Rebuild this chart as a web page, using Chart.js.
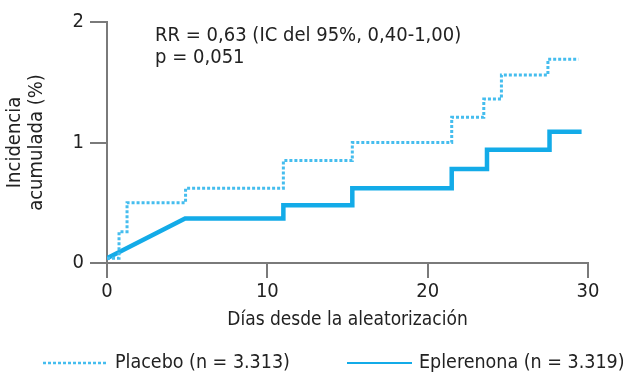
<!DOCTYPE html>
<html>
<head>
<meta charset="utf-8">
<script src="https://cdn.jsdelivr.net/npm/chart.js@4.4.1/dist/chart.umd.min.js"></script>
<style>
  html, body { margin: 0; padding: 0; background: #fff; }
  #wrap { width: 623px; height: 376px; position: relative; }
</style>
</head>
<body>
<div id="wrap"><canvas id="myChart"></canvas></div>
<script>
// datos
const ticksX = [0, 10, 20, 30];
const ticksY = [0, 1, 2];
const etiquetas = ['Placebo (n = 3.313)', 'Eplerenona (n = 3.319)'];

// placebo: escalones (dia del evento, incidencia acumulada)
const placeboDias = [0, 0.75, 1.25, 4.9, 11.0, 15.3, 21.5, 23.5, 24.6, 27.5, 29.4];
const placeboIncidencia = [0.04, 0.26, 0.50, 0.62, 0.85, 1.00, 1.21, 1.36, 1.56, 1.69, 1.69];

// eplerenona: vertices de la curva
const eplerenonaDias = [0, 4.87, 11.0, 11.0, 15.3, 15.3, 21.5, 21.5, 23.7, 23.7, 27.6, 27.6, 29.6];
const eplerenonaIncidencia = [0.04, 0.37, 0.37, 0.48, 0.48, 0.62, 0.62, 0.78, 0.78, 0.94, 0.94, 1.09, 1.09];

const textoRR = 'RR = 0,63 (IC del 95%, 0,40-1,00)';
const textoP = 'p = 0,051';

const fuente = "'Liberation Sans Narrow', 'DejaVu Sans Condensed', 'Arial Narrow', sans-serif";
const gris = '#7a7a7a';
const colorPlacebo = '#45bdee';
const colorEple = '#13abe8';

function puntos(xs, ys) {
    return xs.map((x, i) => ({ x: x, y: ys[i] }));
}

// texto de RR y p dentro del grafico
const anotacion = {
    id: 'anotacion',
    afterDatasetsDraw(chart) {
        const ctx = chart.ctx;
        const x = chart.scales.x.getPixelForValue(3);
        const top = chart.chartArea.top;
        ctx.save();
        ctx.fillStyle = '#222';
        ctx.font = '20px ' + fuente;
        ctx.textBaseline = 'alphabetic';
        ctx.fillText(textoRR, x, top + 19);
        ctx.fillText(textoP, x, top + 41);
        ctx.restore();
    }
};

// leyenda abajo, dibujada a mano
const leyenda = {
    id: 'leyenda',
    afterDraw(chart) {
        const ctx = chart.ctx;
        const y = 363;
        const inicios = [43, 347];
        ctx.save();
        chart.data.datasets.forEach((ds, i) => {
            const x0 = inicios[i];
            ctx.beginPath();
            ctx.strokeStyle = ds.borderColor;
            ctx.lineWidth = i === 0 ? 2.5 : 2;
            ctx.setLineDash(ds.borderDash || []);
            ctx.moveTo(x0, y);
            ctx.lineTo(x0 + 65, y);
            ctx.stroke();
            ctx.setLineDash([]);
            ctx.fillStyle = '#222';
            ctx.font = '19.5px ' + fuente;
            ctx.textBaseline = 'middle';
            ctx.fillText(ds.label, x0 + 72, y);
        });
        ctx.restore();
    }
};

var ctx = document.getElementById('myChart').getContext('2d');
var myChart = new Chart(ctx, {
    type: 'line',
    data: {
        datasets: [{
            label: etiquetas[0],
            data: puntos(placeboDias, placeboIncidencia),
            borderColor: colorPlacebo,
            borderWidth: 3,
            borderDash: [3, 2],
            stepped: true,
            pointRadius: 0,
            fill: false
        }, {
            label: etiquetas[1],
            data: puntos(eplerenonaDias, eplerenonaIncidencia),
            borderColor: colorEple,
            borderWidth: 4.5,
            pointRadius: 0,
            fill: false
        }]
    },
    options: {
        responsive: true,
        maintainAspectRatio: false,
        animation: false,
        layout: {
            padding: { top: 22, right: 35, bottom: 38, left: 0 }
        },
        plugins: {
            legend: { display: false },
            tooltip: { enabled: false }
        },
        scales: {
            x: {
                type: 'linear',
                min: 0,
                max: 30,
                afterBuildTicks: s => { s.ticks = ticksX.map(v => ({ value: v })); },
                afterFit: s => { s.height = 75; },
                grid: { drawOnChartArea: false, color: gris, lineWidth: 2, tickLength: 15 },
                border: { color: gris, width: 2 },
                ticks: { color: '#222', font: { family: fuente, size: 20 }, padding: 2, maxRotation: 0 },
                title: {
                    display: true,
                    text: 'Días desde la aleatorización',
                    color: '#222',
                    font: { family: fuente, size: 19 },
                    padding: { top: 0, bottom: 7 }
                }
            },
            y: {
                min: 0,
                max: 2,
                afterBuildTicks: s => { s.ticks = ticksY.map(v => ({ value: v })); },
                afterFit: s => { s.width = 107; },
                grid: { drawOnChartArea: false, color: gris, lineWidth: 2, tickLength: 17 },
                border: { color: gris, width: 2 },
                ticks: { color: '#222', font: { family: fuente, size: 20 }, padding: 6 },
                title: {
                    display: true,
                    text: ['Incidencia', 'acumulada (%)'],
                    color: '#222',
                    font: { family: fuente, size: 20, lineHeight: 1.1 },
                    padding: { top: 4, bottom: 0 }
                }
            }
        }
    },
    plugins: [anotacion, leyenda]
});
</script>
</body>
</html>
